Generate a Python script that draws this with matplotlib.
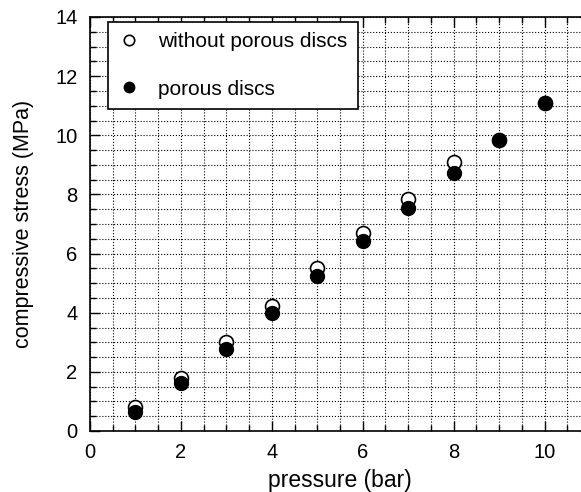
import numpy as np
import matplotlib.pyplot as plt
from matplotlib.ticker import MultipleLocator

plt.rcParams['font.family'] = ['Liberation Sans', 'DejaVu Sans']

pressure = [1, 2, 3, 4, 5, 6, 7, 8, 9, 10]
stress_without = [0.82, 1.78, 3.02, 4.23, 5.5, 6.7, 7.86, 9.1, 9.85, 11.1]
stress_porous = [0.65, 1.62, 2.78, 3.99, 5.25, 6.44, 7.54, 8.72, 9.84, 11.09]
x_ticks = [0, 2, 4, 6, 8, 10]

fig = plt.figure(figsize=(5.81, 4.92), dpi=100)
# axes run a little past the right edge of the figure, as in the cropped original
ax = fig.add_axes([90 / 581, 1 - 431 / 492, 500 / 581, 414 / 492])

ax.plot(pressure, stress_without, 'o', ms=10, mfc='white', mec='black',
        mew=1.2, label='without porous discs', zorder=3)
ax.plot(pressure, stress_porous, 'o', ms=10, mfc='black', mec='black',
        label='porous discs', zorder=4)

ax.set_xlim(0, 11)
ax.set_ylim(0, 14)
ax.set_xticks(x_ticks)
ax.xaxis.set_minor_locator(MultipleLocator(0.5))
ax.yaxis.set_major_locator(MultipleLocator(2))
ax.yaxis.set_minor_locator(MultipleLocator(0.5))
ax.grid(which='both', color='black', linestyle=':', linewidth=0.8)
ax.set_axisbelow(True)

ax.tick_params(which='both', direction='in', top=True, right=True,
               labelsize=14.5, pad=9)
ax.tick_params(which='major', length=7, width=1)
ax.tick_params(which='minor', length=4, width=1)
for s in ax.spines.values():
    s.set_linewidth(1.2)

ax.set_xlabel('pressure (bar)', fontsize=16.5, labelpad=5)
ax.set_ylabel('compressive stress (MPa)', fontsize=15.5, labelpad=15)

leg = ax.legend(loc='upper left', bbox_to_anchor=(0.036, 0.988),
                fontsize=15, fancybox=False, framealpha=1,
                edgecolor='black', labelspacing=1.35, handletextpad=0.9,
                borderpad=0.5, handlelength=1.0, markerscale=0.75,
                borderaxespad=0)
leg.get_frame().set_linewidth(1.2)

fig.savefig('out.png', dpi=100)
